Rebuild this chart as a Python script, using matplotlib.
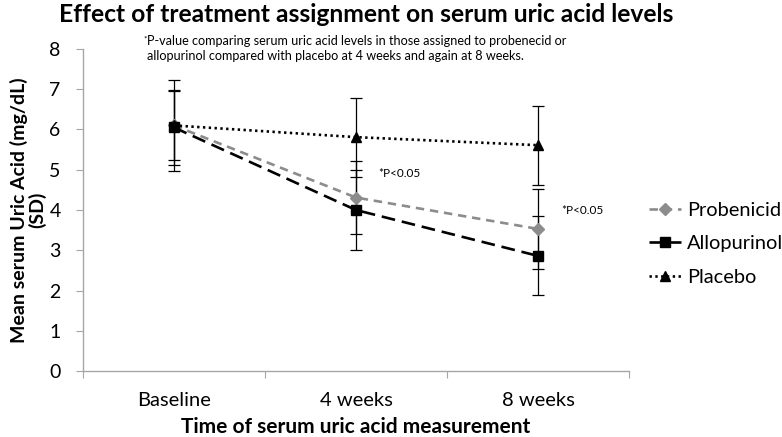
import matplotlib
matplotlib.use("Agg")
import matplotlib.pyplot as plt

plt.rcParams['font.family'] = ['Lato', 'DejaVu Sans']

# data
categories = ['Baseline', '4 weeks', '8 weeks']
probenecid = [6.10, 4.31, 3.53]
probenecid_sd = [0.86, 0.90, 1.00]
allopurinol = [6.05, 4.00, 2.86]
allopurinol_sd = [0.92, 0.99, 0.98]
placebo = [6.10, 5.81, 5.61]
placebo_sd = [1.13, 0.98, 0.98]

x = list(range(len(categories)))

fig = plt.figure(figsize=(7.82, 4.37), dpi=100)
ax = fig.add_axes([0.1061, 0.151, 0.6982, 0.7369])

# error bars (all black, thin)
for vals, sd in [(placebo, placebo_sd), (probenecid, probenecid_sd), (allopurinol, allopurinol_sd)]:
    ax.errorbar(x, vals, yerr=sd, fmt='none', ecolor='black', elinewidth=0.9,
                capsize=4, capthick=0.9, zorder=2)

ax.plot(x, probenecid, color='#8c8c8c', linestyle=(0, (3.2, 2.2)), linewidth=1.9,
        marker='D', markersize=6, label='Probenicid', zorder=3)
ax.plot(x, allopurinol, color='black', linestyle=(0, (5.2, 2.6)), linewidth=1.9,
        marker='s', markersize=7.5, label='Allopurinol', zorder=4)
ax.plot(x, placebo, color='black', linestyle=(0, (0.9, 1.3)), linewidth=1.9,
        marker='^', markersize=7.5, label='Placebo', zorder=5)

ax.set_xlim(-0.5, 2.5)
ax.set_ylim(0, 8)
ax.set_yticks(range(0, 9))
ax.set_xticks([-0.5, 0.5, 1.5, 2.5])
ax.set_xticklabels([])
ax.set_xticks(x, minor=True)
ax.set_xticklabels(categories, minor=True)

for s in ['top', 'right']:
    ax.spines[s].set_visible(False)
for s in ['left', 'bottom']:
    ax.spines[s].set_color('#a6a6a6')
    ax.spines[s].set_linewidth(1.0)

ax.tick_params(axis='y', which='major', length=5, color='#a6a6a6', pad=11, labelsize=14)
ax.tick_params(axis='x', which='major', length=5, color='#a6a6a6')
ax.tick_params(axis='x', which='minor', length=0, pad=15, labelsize=14.5)

ax.set_xlabel('Time of serum uric acid measurement', fontsize=15, fontweight='bold', labelpad=6)
ax.set_ylabel('Mean serum Uric Acid (mg/dL)\n(SD)', fontsize=14, fontweight='bold',
              linespacing=1.0)
ax.yaxis.set_label_coords(-0.068, 0.5)

ax.text(1.12, 4.9, '*P<0.05', fontsize=8.5, va='center', ha='left')
ax.text(2.13, 3.98, '*P<0.05', fontsize=8.5, va='center', ha='left')

fig.text(0.468, 0.966, 'Effect of treatment assignment on serum uric acid levels',
         fontsize=17.7, fontweight='bold', ha='center', va='center')
fig.text(143 / 782, 1 - 36 / 437, '*', fontsize=6, ha='left', va='top')
fig.text(147 / 782, 1 - 35 / 437,
         'P-value comparing serum uric acid levels in those assigned to probenecid or\n'
         'allopurinol compared with placebo at 4 weeks and again at 8 weeks.',
         fontsize=9.1, ha='left', va='top', linespacing=1.25)

ax.legend(loc='upper left', bbox_to_anchor=(641 / 782, 1 - 194 / 437),
          bbox_transform=fig.transFigure, frameon=False, fontsize=14.4,
          handlelength=1.6, handletextpad=0.3, labelspacing=0.82, borderaxespad=0)

fig.savefig('out.png', dpi=100)
